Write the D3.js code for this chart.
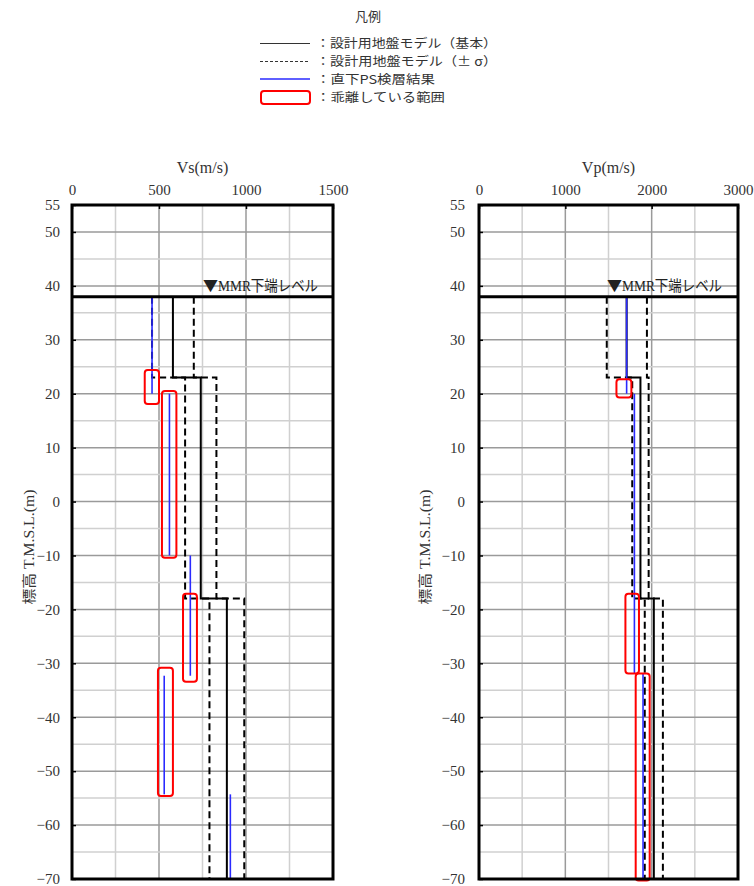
<!DOCTYPE html>
<html><head><meta charset="utf-8">
<script src="https://cdn.jsdelivr.net/npm/d3@7"></script>
<style>body{margin:0;background:#fff}svg{display:block}</style>
</head><body>
<script>
// ---------- data ----------
const depthTicks = [55,50,40,30,20,10,0,-10,-20,-30,-40,-50,-60,-70];
const vsTicks = [0,500,1000,1500];
const vpTicks = [0,1000,2000,3000];

// design ground model layers (top elevations ... bottom), m
const layerBounds = [38, 23, -18, -70];
const vsBase  = [580, 740, 890];
const vsMinus = [460, 650, 790];
const vsPlus  = [700, 830, 990];
const vpBase  = [1710, 1870, 2025];
const vpMinus = [1480, 1775, 1920];
const vpPlus  = [1945, 1965, 2130];

// PS logging results directly below
const vsPsTop    = [38, 20, -10, -32.3, -54.3];
const vsPsBottom = [20, -10, -32.3, -54.3, -70];
const vsPs       = [460, 560, 680, 530, 910];
const vpPsTop    = [38, 20, -32];
const vpPsBottom = [20, -32, -70];
const vpPs       = [1710, 1800, 1900];

// deviating ranges (red boxes)
const vsBoxVmin = [418, 517, 638, 494];
const vsBoxVmax = [500, 600, 718, 580];
const vsBoxTop  = [24.4, 20.5, -17.1, -30.8];
const vsBoxBot  = [18.1, -10.4, -33.4, -54.6];
const vpBoxVmin = [1592, 1696, 1815];
const vpBoxVmax = [1765, 1853, 1977];
const vpBoxTop  = [22.7, -17.1, -31.9];
const vpBoxBot  = [19.3, -31.9, -70.3];

const mmrMark = "▼";
const mmrText = "MMR下端レベル";
const yTitle = "標高 T.M.S.L.(m)";
const legendTitle = "凡例";
const legendItems = ["：設計用地盤モデル（基本）","：設計用地盤モデル（± σ）","：直下PS検層結果","：乖離している範囲"];

// ---------- drawing ----------
const W = 754, H = 886;
const svg = d3.select("body").append("svg").attr("width", W).attr("height", H);
const serif = "'Liberation Serif','Noto Sans CJK JP',serif";
const sans = "'Noto Sans CJK JP','Noto Sans',sans-serif";

const y = d3.scaleLinear().domain([55,-70]).range([205,879]);

function step(vals){
  const p=[]; vals.forEach((v,i)=>{p.push([v,layerBounds[i]]);p.push([v,layerBounds[i+1]]);}); return p;
}

function panel(o){
  const x = d3.scaleLinear().domain(o.domain).range(o.range);
  const g = svg.append("g");
  const [L,R] = o.range, T = y(55), B = y(-70);
  // grid
  const vg = d3.range(o.domain[0], o.domain[1]+1, o.minor);
  g.selectAll(".vg").data(vg).join("line")
    .attr("x1",d=>x(d)).attr("x2",d=>x(d)).attr("y1",T).attr("y2",B)
    .attr("stroke",d=>d%o.major===0?"#9a9a9a":"#d0d0d0").attr("stroke-width",1.5);
  const hg = d3.range(-70, 56, 5);
  g.selectAll(".hg").data(hg).join("line")
    .attr("x1",L).attr("x2",R).attr("y1",d=>y(d)).attr("y2",d=>y(d))
    .attr("stroke",d=>d%10===0?"#9a9a9a":"#d0d0d0").attr("stroke-width",1.5);
  // axes
  const ay = g.append("g").attr("transform",`translate(${L},0)`)
    .call(d3.axisLeft(y).tickValues(depthTicks).tickSize(-4).tickPadding(o.yPad).tickFormat(d3.format("d")));
  ay.select(".domain").remove();
  ay.selectAll("line").attr("stroke","#000").attr("stroke-width",1.5);
  ay.selectAll("text").attr("font-family",serif).attr("font-size",15).attr("fill","#333");
  const ax = g.append("g").attr("transform",`translate(0,${T})`)
    .call(d3.axisTop(x).tickValues(o.ticks).tickSize(-4).tickPadding(10).tickFormat(d3.format("d")));
  ax.select(".domain").remove();
  ax.selectAll("line").attr("stroke","#000").attr("stroke-width",1.5);
  ax.selectAll("text").attr("font-family",serif).attr("font-size",15).attr("fill","#333");
  // titles
  g.append("text").attr("x",(L+R)/2).attr("y",173).attr("text-anchor","middle")
    .attr("font-family",serif).attr("font-size",16).attr("fill","#333").text(o.title);
  g.append("text").attr("transform",`translate(${o.yTitleX},547) rotate(-90)`)
    .attr("text-anchor","middle").attr("font-family",serif).attr("font-size",14)
    .attr("fill","#333").attr("textLength",115).attr("lengthAdjust","spacingAndGlyphs").text(yTitle);
  // MMR label
  const mt = g.append("text").attr("x",L+o.mmrDx).attr("y",291).attr("fill","#222");
  mt.append("tspan").attr("font-family",sans).attr("font-size",15).text(mmrMark);
  mt.append("tspan").attr("font-family",serif).attr("font-size",15)
    .attr("textLength",100).attr("lengthAdjust","spacingAndGlyphs").text(mmrText);
  const line = d3.line().x(d=>x(d[0])).y(d=>y(d[1]));
  // sigma dashed
  [o.minus,o.plus].forEach(v=>{
    g.append("path").attr("d",line(step(v))).attr("fill","none").attr("stroke","#000")
      .attr("stroke-width",2).attr("stroke-dasharray","7,4");
  });
  // base
  g.append("path").attr("d",line(step(o.base))).attr("fill","none").attr("stroke","#000").attr("stroke-width",2);
  // PS
  g.selectAll(".ps").data(o.ps).join("line")
    .attr("x1",d=>x(d)).attr("x2",d=>x(d))
    .attr("y1",(d,i)=>y(o.psTop[i])).attr("y2",(d,i)=>y(o.psBot[i]))
    .attr("stroke","#2a2aff").attr("stroke-width",1.6);
  // boxes
  g.selectAll(".bx").data(o.bMin).join("rect")
    .attr("x",d=>x(d)).attr("width",(d,i)=>x(o.bMax[i])-x(d))
    .attr("y",(d,i)=>y(o.bTop[i])).attr("height",(d,i)=>y(o.bBot[i])-y(o.bTop[i]))
    .attr("rx",3).attr("fill","none").attr("stroke","#ff0000").attr("stroke-width",2);
  // ground line
  g.append("line").attr("x1",L).attr("x2",R).attr("y1",y(layerBounds[0])).attr("y2",y(layerBounds[0]))
    .attr("stroke","#000").attr("stroke-width",3);
  // border
  g.append("rect").attr("x",L).attr("y",T).attr("width",R-L).attr("height",B-T)
    .attr("fill","none").attr("stroke","#000").attr("stroke-width",3);
}

panel({domain:[0,1500],range:[72,333],ticks:vsTicks,minor:250,major:500,title:"Vs(m/s)",
  yPad:12,yTitleX:34,mmrDx:131,base:vsBase,minus:vsMinus,plus:vsPlus,
  ps:vsPs,psTop:vsPsTop,psBot:vsPsBottom,bMin:vsBoxVmin,bMax:vsBoxVmax,bTop:vsBoxTop,bBot:vsBoxBot});
panel({domain:[0,3000],range:[479,738],ticks:vpTicks,minor:500,major:1000,title:"Vp(m/s)",
  yPad:14,yTitleX:430,mmrDx:128,base:vpBase,minus:vpMinus,plus:vpPlus,
  ps:vpPs,psTop:vpPsTop,psBot:vpPsBottom,bMin:vpBoxVmin,bMax:vpBoxVmax,bTop:vpBoxTop,bBot:vpBoxBot});

// legend
const lg = svg.append("g");
lg.append("text").attr("x",368).attr("y",21).attr("text-anchor","middle")
  .attr("font-family",sans).attr("font-size",13).attr("fill","#333").text(legendTitle);
const rowY = [43.5,61.5,79.5,97.5];
const rowLen = [181,181,119,129];
lg.append("line").attr("x1",260).attr("x2",310).attr("y1",43.5).attr("y2",43.5).attr("stroke","#333").attr("stroke-width",1);
lg.append("line").attr("x1",260).attr("x2",310).attr("y1",61.5).attr("y2",61.5).attr("stroke","#333").attr("stroke-width",1).attr("stroke-dasharray","3,2");
lg.append("line").attr("x1",260).attr("x2",310).attr("y1",79).attr("y2",79).attr("stroke","#2a2aff").attr("stroke-width",1.3);
lg.append("rect").attr("x",261).attr("y",rowY[3]-6.5).attr("width",49).attr("height",13).attr("rx",3)
  .attr("fill","none").attr("stroke","#ff0000").attr("stroke-width",2);
lg.selectAll(".lt").data(legendItems).join("text")
  .attr("x",316).attr("y",(d,i)=>rowY[i]+4.5).attr("font-family",sans).attr("font-size",12.4)
  .attr("textLength",(d,i)=>rowLen[i]).attr("lengthAdjust","spacingAndGlyphs")
  .attr("fill","#333").text(d=>d);
</script>
</body></html>
